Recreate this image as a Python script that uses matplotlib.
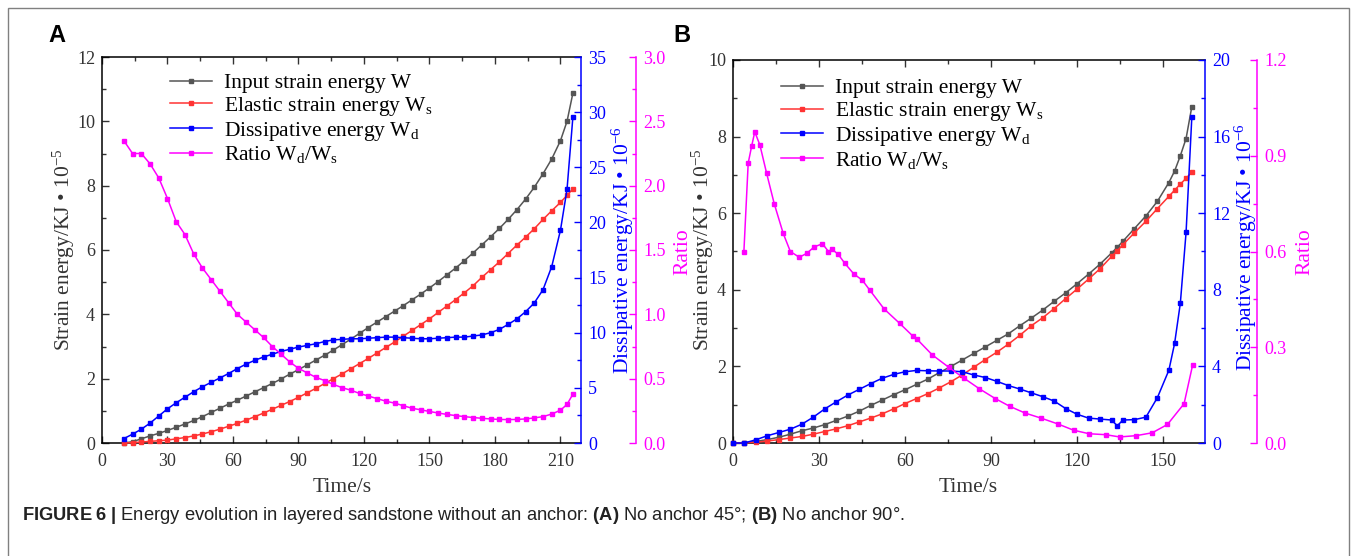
import matplotlib
matplotlib.use("Agg")
import matplotlib.pyplot as plt
from matplotlib.ticker import MultipleLocator, FormatStrFormatter
from matplotlib.patches import Rectangle

plt.rcParams['font.family'] = ['Liberation Serif', 'DejaVu Serif']
plt.rcParams['mathtext.fontset'] = 'custom'
plt.rcParams['mathtext.rm'] = 'Liberation Serif'
plt.rcParams['mathtext.it'] = 'Liberation Serif:italic'
plt.rcParams['mathtext.bf'] = 'Liberation Sans:bold'

# ---------------- Panel A data (No anchor 45°) ----------------
tA = [10, 14, 18, 22, 26, 30, 34, 38, 42, 46, 50, 54, 58, 62, 66, 70, 74, 78, 82, 86,
      90, 94, 98, 102, 106, 110, 114, 118, 122, 126, 130, 134, 138, 142, 146, 150,
      154, 158, 162, 166, 170, 174, 178, 182, 186, 190, 194, 198, 202, 206, 210, 213, 215.7]
W_A = [0.00, 0.04, 0.13, 0.22, 0.30, 0.39, 0.49, 0.59, 0.70, 0.82, 0.95, 1.08, 1.21, 1.33,
       1.46, 1.59, 1.72, 1.85, 1.99, 2.14, 2.28, 2.43, 2.58, 2.73, 2.89, 3.06, 3.23, 3.41,
       3.59, 3.76, 3.93, 4.10, 4.27, 4.45, 4.63, 4.82, 5.02, 5.23, 5.44, 5.67, 5.91, 6.16,
       6.41, 6.67, 6.95, 7.25, 7.58, 7.95, 8.37, 8.83, 9.40, 10.00, 10.88]
Ws_A = [0.00, 0.01, 0.03, 0.05, 0.07, 0.09, 0.13, 0.17, 0.22, 0.28, 0.35, 0.43, 0.52, 0.61,
        0.71, 0.82, 0.93, 1.05, 1.17, 1.29, 1.42, 1.56, 1.70, 1.85, 2.00, 2.15, 2.31, 2.47,
        2.63, 2.80, 2.97, 3.14, 3.32, 3.50, 3.68, 3.86, 4.06, 4.26, 4.46, 4.67, 4.89, 5.15,
        5.39, 5.63, 5.89, 6.15, 6.40, 6.66, 6.95, 7.22, 7.48, 7.70, 7.90]
Wd_A = [0.4, 0.8, 1.25, 1.8, 2.45, 3.1, 3.65, 4.15, 4.65, 5.1, 5.5, 5.9, 6.3, 6.75, 7.15,
        7.5, 7.8, 8.05, 8.3, 8.5, 8.7, 8.85, 9.0, 9.2, 9.35, 9.4, 9.45, 9.45, 9.5, 9.55,
        9.6, 9.6, 9.55, 9.5, 9.45, 9.45, 9.5, 9.55, 9.6, 9.6, 9.7, 9.8, 10.0, 10.3, 10.75,
        11.25, 11.9, 12.7, 13.9, 16.0, 19.3, 23.0, 29.6]
R_A = [2.35, 2.25, 2.25, 2.17, 2.06, 1.90, 1.72, 1.62, 1.47, 1.36, 1.27, 1.18, 1.09, 1.00,
       0.94, 0.88, 0.82, 0.75, 0.69, 0.63, 0.58, 0.545, 0.51, 0.485, 0.455, 0.43, 0.41,
       0.385, 0.365, 0.345, 0.325, 0.31, 0.29, 0.27, 0.258, 0.245, 0.233, 0.222, 0.213,
       0.205, 0.198, 0.192, 0.187, 0.183, 0.182, 0.183, 0.187, 0.195, 0.205, 0.225, 0.255,
       0.30, 0.38]

# ---------------- Panel B data (No anchor 90°) ----------------
tB = [0, 4, 8, 12, 16, 20, 24, 28, 32, 36, 40, 44, 48, 52, 56, 60, 64, 68, 72, 76, 80,
      84, 88, 92, 96, 100, 104, 108, 112, 116, 120, 124, 128, 132, 134, 136, 140, 144,
      148, 152, 154, 156, 158, 160]
W_B = [0.0, 0.01, 0.04, 0.09, 0.15, 0.23, 0.32, 0.39, 0.48, 0.59, 0.70, 0.83, 0.98, 1.12,
       1.26, 1.39, 1.53, 1.67, 1.84, 2.00, 2.17, 2.34, 2.51, 2.68, 2.85, 3.06, 3.26, 3.47,
       3.70, 3.92, 4.16, 4.41, 4.67, 4.96, 5.11, 5.27, 5.60, 5.93, 6.31, 6.80, 7.10, 7.50,
       7.95, 8.78]
Ws_B = [0.0, 0.005, 0.02, 0.05, 0.09, 0.13, 0.17, 0.23, 0.30, 0.37, 0.45, 0.55, 0.65, 0.76,
        0.89, 1.03, 1.16, 1.29, 1.44, 1.60, 1.78, 1.98, 2.18, 2.37, 2.58, 2.81, 3.06, 3.27,
        3.51, 3.77, 4.02, 4.28, 4.55, 4.87, 5.02, 5.18, 5.49, 5.79, 6.12, 6.44, 6.60, 6.76,
        6.91, 7.07]
Wd_B = [0.0, 0.0, 0.17, 0.38, 0.55, 0.72, 0.98, 1.35, 1.78, 2.15, 2.5, 2.8, 3.1, 3.38,
        3.58, 3.72, 3.79, 3.77, 3.76, 3.76, 3.72, 3.55, 3.42, 3.22, 3.0, 2.82, 2.62, 2.42,
        2.19, 1.8, 1.5, 1.3, 1.25, 1.2, 0.9, 1.2, 1.22, 1.35, 2.37, 3.8, 5.2, 7.3, 11.0, 17.0]
tR_B = [3.8, 5.3, 6.5, 7.6, 9.4, 11.7, 14.4, 17.5, 20, 23.1, 25.7, 28.4, 31.2, 33.3, 34.5,
        36.6, 39, 42.1, 45.1, 47.7, 52.7, 58.1, 62.6, 64.1, 69.5, 75.2, 80.4, 85.9, 91.5,
        96.5, 101.8, 107.4, 113.2, 118.8, 124.2, 130, 134.8, 140.6, 146.2, 151.5, 157.3, 160.3]
R_B = [0.60, 0.877, 0.93, 0.975, 0.933, 0.846, 0.749, 0.657, 0.60, 0.582, 0.594, 0.615,
       0.624, 0.60, 0.607, 0.592, 0.563, 0.53, 0.51, 0.479, 0.42, 0.375, 0.336, 0.326,
       0.276, 0.2375, 0.204, 0.17, 0.139, 0.115, 0.094, 0.078, 0.06, 0.04, 0.029, 0.026,
       0.019, 0.023, 0.032, 0.058, 0.123, 0.245]

legend_labels = ["Input strain energy W", r"Elastic strain energy W$_\mathrm{s}$",
                 r"Dissipative energy W$_\mathrm{d}$", r"Ratio W$_\mathrm{d}$/W$_\mathrm{s}$"]

C_GRAY, C_RED, C_BLUE, C_MAG = '#555555', '#ff3333', '#0000ff', '#ff00ff'
TICK_FS = 13
LAB_FS = 15.5

FW, FH = 1357, 556
fig = plt.figure(figsize=(FW / 100, FH / 100), dpi=100)


def fx(px):
    return px / FW


def fy(py):
    return 1 - py / FH


def panel(box, t, W, Ws, Wd, tR, R, xlim, ylim, y2lim, y3lim, ymaj, ymin, y2maj, y2min,
          y3maj, y3min, off3, leg_anchor):
    l, r, top, bot = box
    ax = fig.add_axes([fx(l), fy(bot), (r - l) / FW, (bot - top) / FH])
    ax2 = ax.twinx()
    ax3 = ax.twinx()
    ax3.spines['right'].set_position(('outward', off3 * 0.72))
    for a in (ax2, ax3):
        for s in ('left', 'top', 'bottom'):
            a.spines[s].set_visible(False)
    ax.spines['right'].set_visible(False)
    for s in ('left', 'top', 'bottom'):
        ax.spines[s].set_linewidth(1.1)
    ms = 2.8
    lw = 1.1
    h1, = ax.plot(t, W, '-s', color=C_GRAY, lw=lw, ms=ms, clip_on=False, zorder=3)
    h2, = ax.plot(t, Ws, '-s', color=C_RED, lw=lw, ms=ms, clip_on=False, zorder=3)
    h3, = ax2.plot(t, Wd, '-s', color=C_BLUE, lw=lw, ms=ms, clip_on=False, zorder=3)
    h4, = ax3.plot(tR, R, '-s', color=C_MAG, lw=lw, ms=ms, clip_on=False, zorder=3)
    ax.set_xlim(*xlim)
    ax.set_ylim(*ylim)
    ax2.set_ylim(*y2lim)
    ax3.set_ylim(*y3lim)
    ax.xaxis.set_major_locator(MultipleLocator(30))
    ax.xaxis.set_minor_locator(MultipleLocator(15))
    ax.yaxis.set_major_locator(MultipleLocator(ymaj))
    ax.yaxis.set_minor_locator(MultipleLocator(ymin))
    ax2.yaxis.set_major_locator(MultipleLocator(y2maj))
    ax2.yaxis.set_minor_locator(MultipleLocator(y2min))
    ax3.yaxis.set_major_locator(MultipleLocator(y3maj))
    ax3.yaxis.set_minor_locator(MultipleLocator(y3min))
    ax3.yaxis.set_major_formatter(FormatStrFormatter('%.1f'))
    ax.tick_params(axis='both', which='both', direction='in', top=True, right=False,
                   labelsize=TICK_FS, colors='#333333')
    ax.tick_params(axis='both', which='major', length=5, width=1.0)
    ax.tick_params(axis='both', which='minor', length=3, width=1.0)
    ax.tick_params(axis='x', which='both', pad=7)
    ax.tick_params(axis='y', which='both', pad=5)
    for a, c in ((ax2, C_BLUE), (ax3, C_MAG)):
        a.spines['right'].set_color(c)
        a.spines['right'].set_linewidth(1.1)
        a.tick_params(axis='y', which='both', direction='in', colors=c, labelsize=TICK_FS,
                      pad=5)
        a.tick_params(axis='y', which='major', length=5, width=1.0)
        a.tick_params(axis='y', which='minor', length=3, width=1.0)
    ax3.legend([h1, h2, h3, h4], legend_labels, loc='upper left', bbox_to_anchor=leg_anchor,
               frameon=False, fontsize=15.5, handlelength=1.95, handletextpad=0.55,
               labelspacing=0.08, borderpad=0, borderaxespad=0)
    return ax


panel((102, 581, 57, 443), tA, W_A, Ws_A, Wd_A, tA, R_A, (0, 219.4), (0, 12), (0, 35),
      (0, 3.0), 2, 1, 5, 2.5, 0.5, 0.25, 55, (0.142, 0.958))
panel((733, 1205, 60, 443), tB, W_B, Ws_B, Wd_B, tR_B, R_B, (0, 164.6), (0, 10), (0, 20),
      (0, 1.2), 2, 1, 4, 2, 0.3, 0.15, 52, (0.102, 0.952))

# axis labels
left_lab = r"Strain energy/KJ • 10$^{-5}$"
blue_lab = r"Dissipative energy/KJ • 10$^{-6}$"
for (x, y, s, c) in [(64, 250, left_lab, '#333333'), (623, 250, blue_lab, C_BLUE),
                     (683, 252, "Ratio", C_MAG), (703, 250, left_lab, '#333333'),
                     (1246, 247, blue_lab, C_BLUE), (1305, 252, "Ratio", C_MAG)]:
    fig.text(fx(x), fy(y), s, rotation=90, ha='center', va='center', color=c,
             fontsize=LAB_FS)
for x in (342, 968):
    fig.text(fx(x), fy(487), "Time/s", ha='center', va='center', color='#333333',
             fontsize=LAB_FS)

# panel letters
fig.text(fx(57), fy(35), "A", ha='center', va='center', fontsize=17, weight='bold',
         family='Liberation Sans')
fig.text(fx(682), fy(35), "B", ha='center', va='center', fontsize=17, weight='bold',
         family='Liberation Sans')

# caption
caption = (r"$\mathbf{FIGURE\ 6\ |}$ Energy evolution in layered sandstone without an anchor: "
           r"$\mathbf{(A)}$ No anchor 45°; $\mathbf{(B)}$ No anchor 90°.")
fig.text(fx(22), fy(516), caption, ha='left', va='center', fontsize=13.2,
         family='Liberation Sans', color='#222222')

# outer frame
fig.patches.append(Rectangle((fx(8), -0.05), (1349 - 8) / FW, fy(8) + 0.05,
                             transform=fig.transFigure, fill=False, edgecolor='#808080',
                             lw=1.0))

fig.savefig("out.png", dpi=100)
